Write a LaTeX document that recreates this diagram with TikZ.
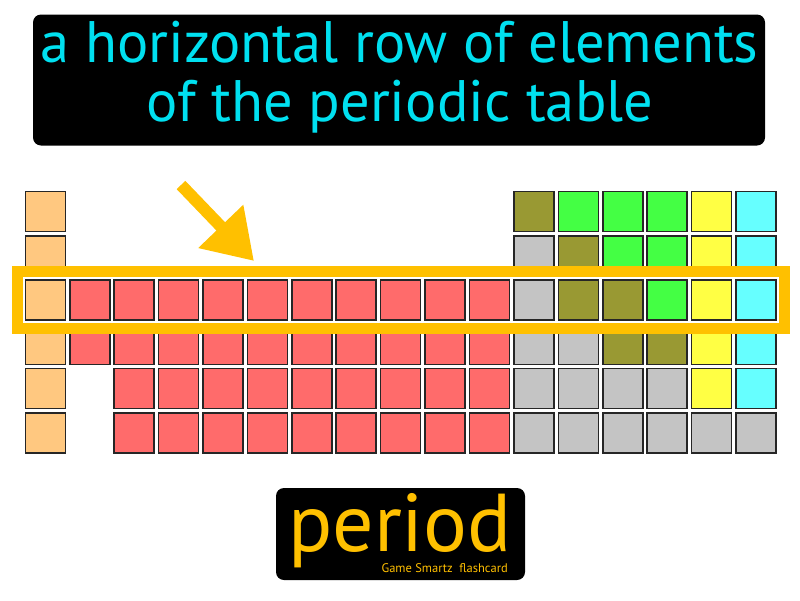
\documentclass[tikz,border=0pt]{standalone}
\usepackage{fontspec}
\setmainfont{PT Sans}
\usepackage{tikz}
\usetikzlibrary{positioning,arrows.meta,fit}
\definecolor{defcyan}{RGB}{0,224,240}
\definecolor{gold}{RGB}{255,192,0}
\definecolor{alk}{RGB}{255,200,128}
\definecolor{trans}{RGB}{255,107,107}
\definecolor{metal}{RGB}{196,196,196}
\definecolor{olv}{RGB}{153,153,51}
\definecolor{grn}{RGB}{68,255,68}
\definecolor{yel}{RGB}{255,255,68}
\definecolor{cyn}{RGB}{102,255,255}

\begin{document}
\begin{tikzpicture}[x=1pt,y=-1pt,
        cell/.style={rectangle, draw=black!85, line width=1.6pt,
                     minimum size=40pt, inner sep=0pt},
        blackbox/.style={fill=black, rounded corners=8pt, inner sep=0pt},
        band/.style={draw=gold, line width=11pt, inner sep=7.5pt},
        pointer/.style={-{Triangle[length=48pt,width=59pt]}, gold, line width=12pt}
      ]
        \useasboundingbox (0,0) rectangle (800,600);
        % definition
        \node[blackbox, minimum width=732pt, minimum height=131pt] (def) at (399,80) {};
        \node[defcyan, anchor=base, inner sep=0pt, font=\fontsize{58.5}{60}\selectfont]
              (def1) at (399.5,62.7) {a horizontal row of elements};
        \node[defcyan, anchor=base, inner sep=0pt, font=\fontsize{58.5}{60}\selectfont]
              (def2) at (400,121.7) {of the periodic table};
        % table
        \foreach \r in {0,...,5}
          \node[cell, fill=alk] (c\r-0) at (45.4, 211.4+44.32*\r) {};
        \foreach \r in {2,3}
          \foreach \c in {1,...,10}
            \node[cell, fill=trans] (c\r-\c) at (45.4+44.41*\c, 211.4+44.32*\r) {};
        \foreach \r in {4,5}
          \foreach \c in {2,...,10}
            \node[cell, fill=trans] (c\r-\c) at (45.4+44.41*\c, 211.4+44.32*\r) {};
        \foreach \r/\c/\f in {0/11/olv, 0/12/grn, 0/13/grn, 0/14/grn, 0/15/yel, 0/16/cyn,
                              1/11/metal, 1/12/olv, 1/13/grn, 1/14/grn, 1/15/yel, 1/16/cyn,
                              2/11/metal, 2/12/olv, 2/13/olv, 2/14/grn, 2/15/yel, 2/16/cyn,
                              3/11/metal, 3/12/metal, 3/13/olv, 3/14/olv, 3/15/yel, 3/16/cyn,
                              4/11/metal, 4/12/metal, 4/13/metal, 4/14/metal, 4/15/yel, 4/16/cyn,
                              5/11/metal, 5/12/metal, 5/13/metal, 5/14/metal, 5/15/metal, 5/16/metal}
          \node[cell, fill=\f] (c\r-\c) at (45.4+44.41*\c, 211.4+44.32*\r) {};
        % highlighted period
        \node[band, fit=(c2-0)(c2-16)] (row) {};
        \coordinate (tail) at (181,185);
        \coordinate (tip) at (254,261);
        \draw[pointer] (tail) -- (tip);
        % term
        \node[blackbox, minimum width=249pt, minimum height=92pt] (term) at (400.5,534) {};
        \node[gold, anchor=base, inner sep=0pt, font=\fontsize{82}{82}\selectfont]
              (word) at (400,551.7) {period};
        \node[gold, anchor=base east, inner sep=0pt, font=\fontsize{12.5}{12.5}\selectfont]
              (brand) at (508,572.7) {Game Smartz\ \ flashcard};
\end{tikzpicture}
\end{document}
